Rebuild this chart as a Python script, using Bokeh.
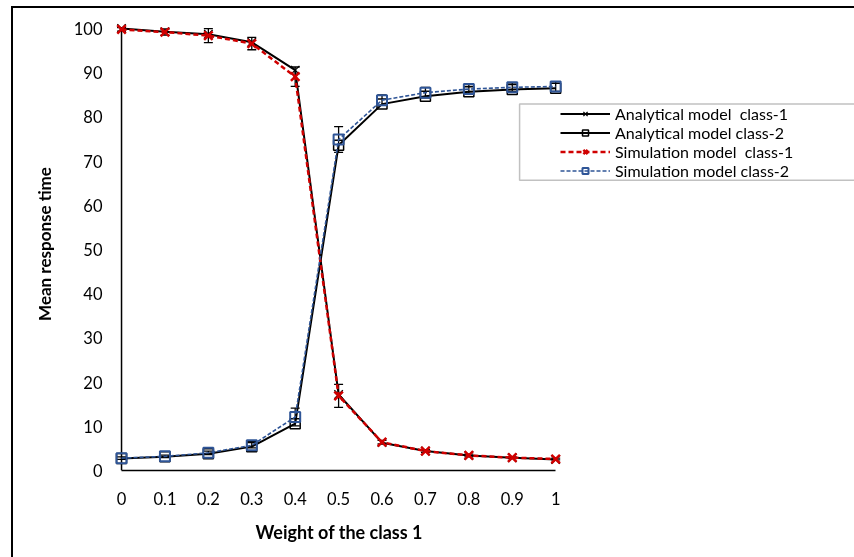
from bokeh.plotting import figure
from bokeh.models import (ColumnDataSource, Whisker, TeeHead, Legend, LegendItem,
                          FixedTicker, BoxAnnotation, Range1d, Title)
from bokeh.embed import file_html
from bokeh.resources import INLINE

# ---------------- data ----------------
weights = [0.0, 0.1, 0.2, 0.3, 0.4, 0.5, 0.6, 0.7, 0.8, 0.9, 1.0]
xtick_labels = ["0", "0.1", "0.2", "0.3", "0.4", "0.5", "0.6", "0.7", "0.8", "0.9", "1"]
yticks = [0, 10, 20, 30, 40, 50, 60, 70, 80, 90, 100]

analytical_c1 = [100.0, 99.3, 98.7, 96.9, 90.6, 17.2, 6.3, 4.4, 3.4, 2.9, 2.5]
analytical_c2 = [2.7, 3.1, 3.8, 5.4, 10.6, 73.6, 82.9, 84.7, 85.7, 86.2, 86.5]
simulation_c1 = [99.8, 99.2, 98.4, 96.6, 89.1, 16.9, 6.4, 4.4, 3.4, 2.9, 2.6]
simulation_c2 = [2.8, 3.2, 4.0, 5.7, 12.1, 74.9, 83.8, 85.5, 86.3, 86.7, 86.9]
sim_c1_err = [0.4, 0.7, 1.6, 1.4, 2.2, 2.6, 0.4, 0.3, 0.3, 0.2, 0.2]
sim_c2_err = [0.3, 0.3, 0.4, 0.6, 2.0, 2.9, 1.2, 1.2, 1.0, 1.0, 1.1]

labels = ["Analytical model  class-1", "Analytical model class-2",
          "Simulation model  class-1", "Simulation model class-2"]
x_title = "Weight of the class 1"
y_title = "Mean response time"

RED = "#D00000"
BLUE = "#2F5597"
FONT = "Lato"

# canvas geometry (canvas is offset by the outer chart border, whose right and
# bottom sides lie outside the window as in the reference)
CW, CH = 850, 560
FL, FB, FT = 97, 460, 9          # frame left, frame bottom, frame top (canvas px)
X0 = 108                          # canvas px of x = 0
PXX = 433.0                       # px per unit x
PXY = 4.4                         # px per unit y
x_start = (FL - X0) / PXX
x_end = (CW - X0) / PXX
y_end = (FB - FT) / PXY

p = figure(width=CW, height=CH, output_backend="svg", toolbar_location=None,
           x_range=Range1d(x_start, x_end), y_range=Range1d(0, y_end),
           min_border_left=FL, min_border_right=0, min_border_top=FT,
           min_border_bottom=CH - FB)
p.styles = {"box-sizing": "content-box", "position": "fixed",
            "left": "11px", "top": "6px", "margin": "0px",
            "border-left": "2px solid black", "border-top": "2px solid black",
            "border-right": "none", "border-bottom": "none"}
p.outline_line_color = None
p.grid.visible = False
p.background_fill_color = "white"
p.border_fill_color = "white"

# axes
p.xaxis.ticker = FixedTicker(ticks=weights)
p.xaxis.major_label_overrides = {w: l for w, l in zip(weights, xtick_labels)}
p.xaxis.bounds = (weights[0], weights[-1])
p.yaxis.ticker = FixedTicker(ticks=yticks)
for ax in (p.xaxis[0], p.yaxis[0]):
    ax.major_tick_line_color = None
    ax.minor_tick_line_color = None
    ax.major_tick_out = 0
    ax.major_tick_in = 0
    ax.major_label_text_font = FONT
    ax.major_label_text_font_size = "16.5px"
    ax.major_label_text_color = "black"
    ax.axis_label_text_font = FONT
    ax.axis_label_text_font_size = "17px"
    ax.axis_label_text_font_style = "bold"
    ax.axis_label_text_color = "black"
p.yaxis.axis_line_color = None
p.xaxis.axis_line_color = "black"
p.xaxis.axis_line_width = 1.5
p.xaxis.major_label_standoff = 21
p.yaxis.major_label_standoff = 8
p.yaxis.axis_label = y_title
p.yaxis.axis_label_standoff = 16

p.add_layout(Title(text=x_title, align="left", offset=145, standoff=22,
                   text_font=FONT, text_font_size="18px", text_font_style="bold",
                   text_color="black"), "below")

# vertical axis line at x = 0
p.segment(x0=[weights[0]], y0=[yticks[0]], x1=[weights[0]], y1=[yticks[-1]],
          line_color="black", line_width=1.5)

src = ColumnDataSource(dict(
    x=weights, a1=analytical_c1, a2=analytical_c2, s1=simulation_c1, s2=simulation_c2,
    s1_lo=[v - e for v, e in zip(simulation_c1, sim_c1_err)],
    s1_hi=[v + e for v, e in zip(simulation_c1, sim_c1_err)],
    s2_lo=[v - e for v, e in zip(simulation_c2, sim_c2_err)],
    s2_hi=[v + e for v, e in zip(simulation_c2, sim_c2_err)],
))

# error bars
for lo, hi in (("s1_lo", "s1_hi"), ("s2_lo", "s2_hi")):
    wk = Whisker(source=src, base="x", lower=lo, upper=hi, line_color="black",
                 line_width=1.3,
                 upper_head=TeeHead(size=9, line_color="black", line_width=1.3),
                 lower_head=TeeHead(size=9, line_color="black", line_width=1.3))
    p.add_layout(wk)

# analytical
la1 = p.line("x", "a1", source=src, line_color="black", line_width=2)
ma1 = p.scatter("x", "a1", source=src, marker="x", size=12, line_color="black", line_width=1.3)
la2 = p.line("x", "a2", source=src, line_color="black", line_width=2)
ma2 = p.scatter("x", "a2", source=src, marker="square", size=10, line_color="black",
                line_width=1.5, fill_alpha=0)
# simulation
ls1 = p.line("x", "s1", source=src, line_color=RED, line_width=2.5, line_dash="5 3")
ms1 = p.scatter("x", "s1", source=src, marker="x", size=12, line_color=RED, line_width=2.5)
ls2 = p.line("x", "s2", source=src, line_color=BLUE, line_width=1.6, line_dash="4 2")
ms2 = p.scatter("x", "s2", source=src, marker="square", size=10, line_color=BLUE,
                line_width=2, fill_alpha=0)

# legend border box (window px 518..edge, 103..179)
p.add_layout(BoxAnnotation(left=(518 - 121) / PXX, right=x_end + 1,
                           top=(468 - 103) / PXY, bottom=(468 - 179) / PXY,
                           fill_alpha=0, line_color="#333333", line_width=1.5,
                           level="overlay"))

legend = Legend(items=[
    LegendItem(label=labels[0], renderers=[la1, ma1]),
    LegendItem(label=labels[1], renderers=[la2, ma2]),
    LegendItem(label=labels[2], renderers=[ls1, ms1]),
    LegendItem(label=labels[3], renderers=[ls2, ms2]),
], location=(447, 287))
legend.border_line_alpha = 0
legend.background_fill_alpha = 0
legend.padding = 3
legend.spacing = 0
legend.margin = 0
legend.glyph_width = 50
legend.glyph_height = 15
legend.label_height = 15
legend.label_standoff = 5
legend.label_text_font = FONT
legend.label_text_font_size = "16px"
legend.label_text_color = "black"
p.add_layout(legend)

open("out.html", "w").write(file_html(p, INLINE))
